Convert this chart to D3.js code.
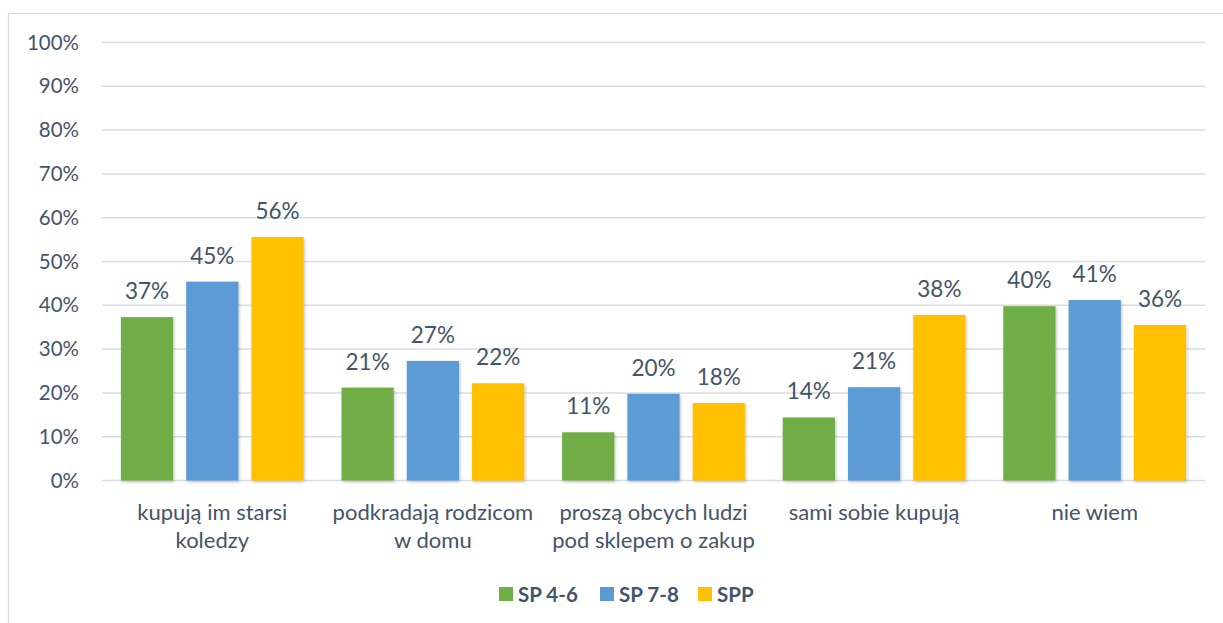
<!DOCTYPE html>
<html><head><meta charset="utf-8">
<script src="https://cdn.jsdelivr.net/npm/d3@7"></script>
<style>
html,body{margin:0;padding:0;background:#fff;}
svg{display:block;font-family:Lato,"Open Sans",sans-serif;}
</style></head>
<body>
<svg id="chart" width="1223" height="623"></svg>
<script>
const categories = ["kupują im starsi\nkoledzy", "podkradają rodzicom\nw domu", "proszą obcych ludzi\npod sklepem o zakup", "sami sobie kupują", "nie wiem"];
const seriesNames = ["SP 4-6", "SP 7-8", "SPP"];
const sp46 = [37.3, 21.2, 11.0, 14.4, 39.8];
const sp78 = [45.4, 27.3, 19.8, 21.3, 41.2];
const spp  = [55.6, 22.2, 17.7, 37.8, 35.5];
const yTicks = [0, 10, 20, 30, 40, 50, 60, 70, 80, 90, 100];
const colors = ["#70AD47", "#5B9BD5", "#FFC000"];
const seriesValues = [sp46, sp78, spp];

(function () {
const svg = d3.select("#chart");
const textColor = "#44546A";

// frame
svg.append("rect").attr("x", 8.5).attr("y", 13.5).attr("width", 1230).attr("height", 640)
  .attr("fill", "none").attr("stroke", "#D9D9D9").attr("stroke-width", 1.2);

const defs = svg.append("defs");
const f = defs.append("filter").attr("id", "shadow").attr("x", "-20%").attr("y", "-20%").attr("width", "140%").attr("height", "140%");
f.append("feDropShadow").attr("dx", 1).attr("dy", 1.5).attr("stdDeviation", 1.8).attr("flood-color", "#000").attr("flood-opacity", 0.25);

const pL = 102, pR = 1205, pT = 42.5, pB = 480.5;
const y = d3.scaleLinear().domain([0, 100]).range([pB, pT]);
const x0 = d3.scaleBand().domain(categories).range([pL, pR]).padding(0);
const x1 = d3.scaleBand().domain(seriesNames).range([0, x0.bandwidth()]).paddingInner(0.2).paddingOuter(0.29);

// gridlines
svg.append("g").selectAll("line").data(yTicks).join("line")
  .attr("x1", pL).attr("x2", pR)
  .attr("y1", d => y(d)).attr("y2", d => y(d))
  .attr("stroke", "#D9DDE3").attr("stroke-width", 1.5);

// y axis labels
const yAxis = d3.axisLeft(y).tickValues(yTicks).tickFormat(d => d + "%").tickSize(0).tickPadding(0);
const ya = svg.append("g").attr("transform", `translate(79,0)`).call(yAxis);
ya.select(".domain").remove();
ya.selectAll("text").attr("fill", textColor).style("font-size", "20.5px").style("font-family", "Lato");

// bars
const groups = svg.append("g").selectAll("g").data(categories).join("g")
  .attr("transform", d => `translate(${x0(d)},0)`);

groups.selectAll("rect").data((d, i) => seriesNames.map((s, j) => ({s, v: seriesValues[j][i], c: colors[j]})))
  .join("rect")
  .attr("x", d => x1(d.s)).attr("width", x1.bandwidth())
  .attr("y", d => y(d.v)).attr("height", d => pB - y(d.v))
  .attr("fill", d => d.c).attr("filter", "url(#shadow)");

groups.selectAll("text.lbl").data((d, i) => seriesNames.map((s, j) => ({s, v: seriesValues[j][i]})))
  .join("text").attr("class", "lbl")
  .attr("x", d => x1(d.s) + x1.bandwidth() / 2)
  .attr("y", d => y(d.v) - 18)
  .attr("text-anchor", "middle").attr("fill", textColor)
  .style("font-size", "22.5px")
  .text(d => Math.round(d.v) + "%");

// category labels
const xl = svg.append("g").selectAll("text").data(categories).join("text")
  .attr("x", d => x0(d) + x0.bandwidth() / 2)
  .attr("y", 520)
  .attr("text-anchor", "middle").attr("fill", textColor)
  .style("font-size", "22px");
xl.each(function(d) {
  const lines = d.split("\n");
  d3.select(this).selectAll("tspan").data(lines).join("tspan")
    .attr("x", x0(d) + x0.bandwidth() / 2)
    .attr("dy", (l, i) => i === 0 ? 0 : 28)
    .text(l => l);
});

// legend
const legendX = [499, 600, 698];
const lg = svg.append("g").selectAll("g").data(seriesNames).join("g")
  .attr("transform", (d, i) => `translate(${legendX[i]},587)`);
lg.append("rect").attr("width", 14).attr("height", 14).attr("fill", (d, i) => colors[i]);
lg.append("text").attr("x", 19).attr("y", 14.5).attr("fill", textColor)
  .style("font-size", "20.5px").style("font-weight", "bold").text(d => d);
})();
</script>
</body></html>
